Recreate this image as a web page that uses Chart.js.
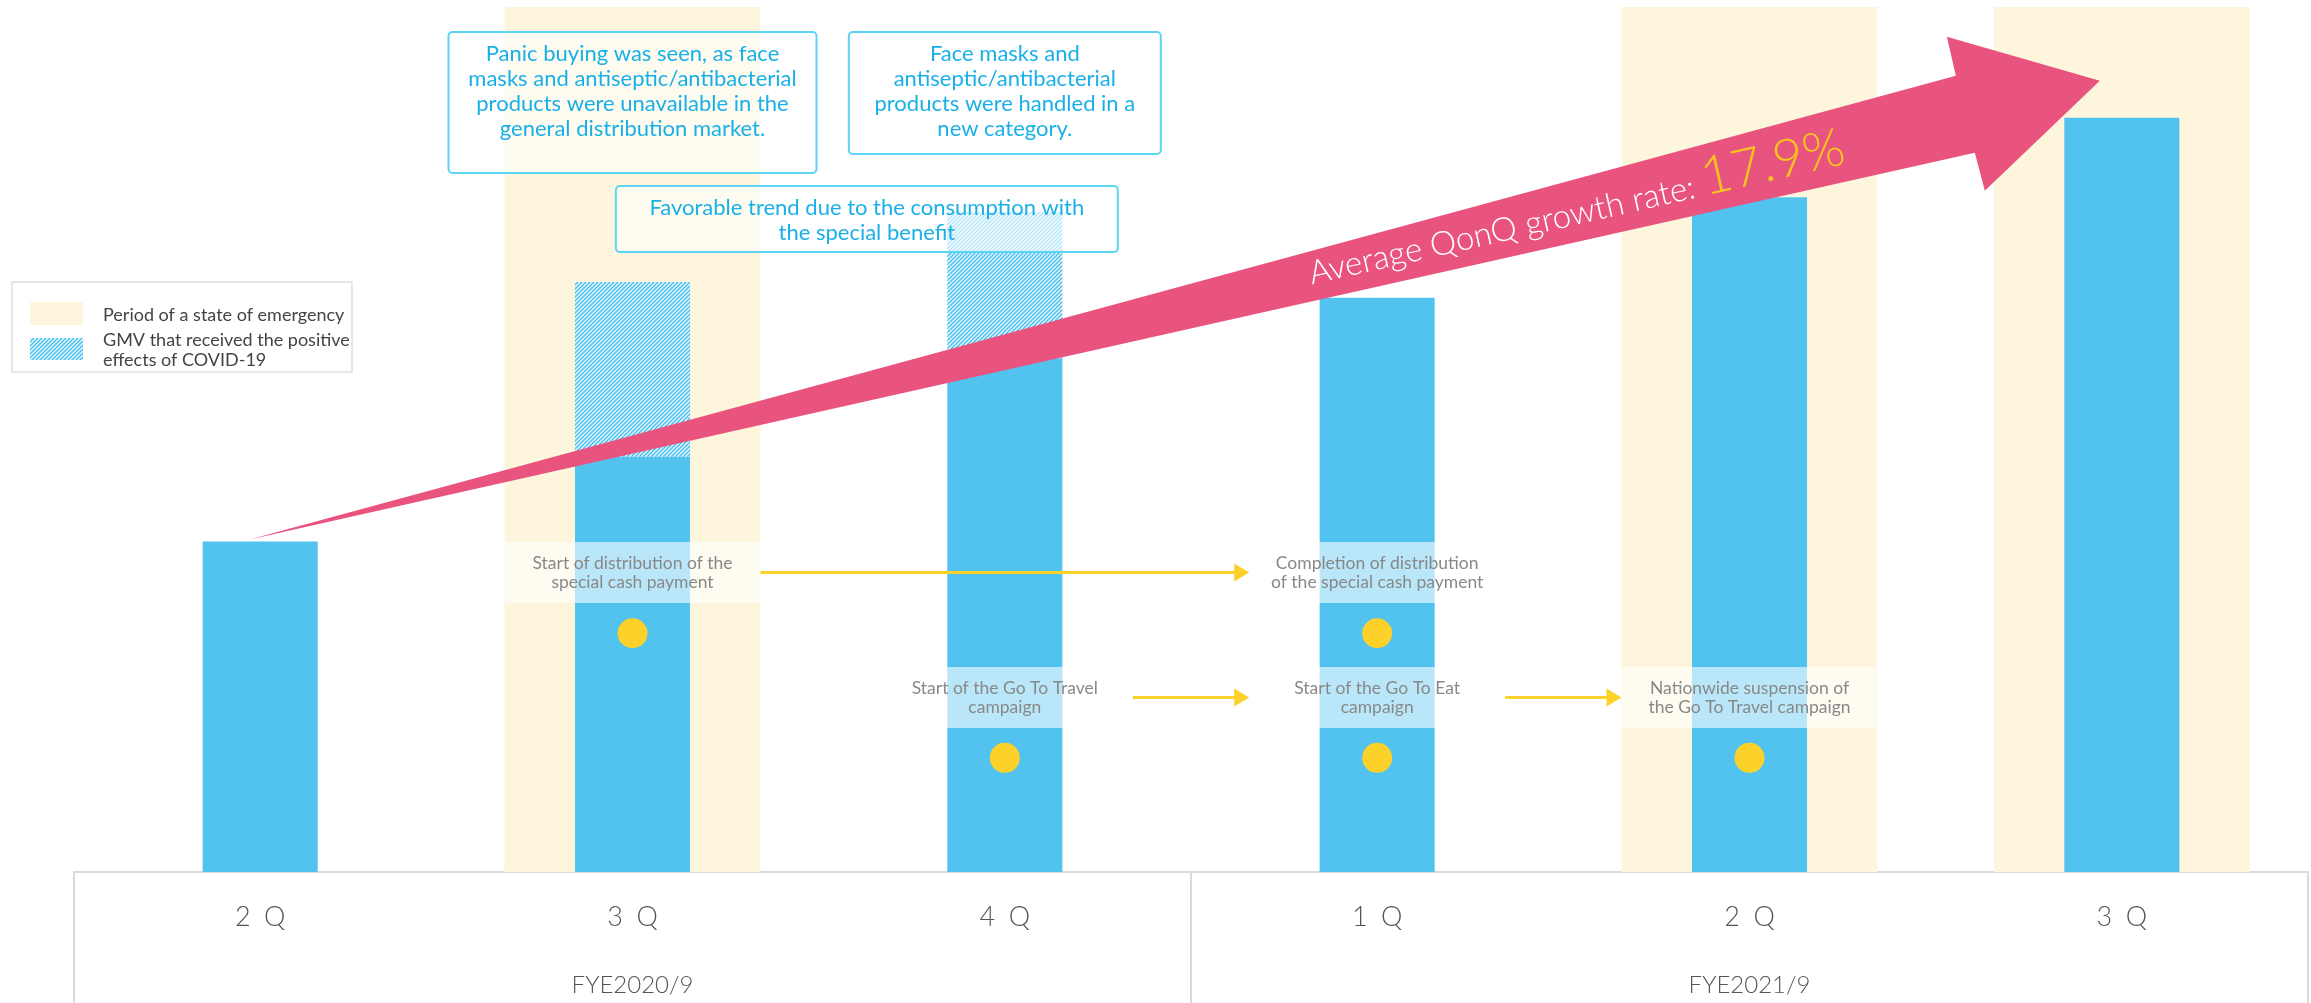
<!DOCTYPE html>
<html>
<head>
<meta charset="utf-8">
<title>GMV QonQ</title>
<script src="https://cdn.jsdelivr.net/npm/chart.js@4.4.1/dist/chart.umd.min.js"></script>
<style>
    html, body { margin: 0; padding: 0; background: #fff; }
    #wrap { width: 2311px; height: 1003px; position: relative; }
</style>
</head>
<body>
<div id="wrap"><canvas id="gmv-chart"></canvas></div>
<script>
// x axis
var quarters = ['2Q', '3Q', '4Q', '1Q', '2Q', '3Q'];
var fiscalYears = ['FYE2020/9', 'FYE2021/9'];
var quartersPerYear = 3;

// GMV index (axis 0-100)
var gmvBase = [38.2, 48.0, 59.4, 66.4, 78.0, 87.2];
var covidBoost = [0, 20.2, 16.9, 0, 0, 0];
var emergencyPeriod = [false, true, false, false, true, true];

// yellow event markers
var eventDotsUpper = [null, 27.6, null, 27.6, null, null];
var eventDotsLower = [null, null, 13.2, 13.2, 13.2, null];

var growthLabel = 'Average QonQ growth rate: ';
var growthRate = '17.9%';

// event captions: quarter index, row (0 upper / 1 lower)
var eventIndex = [1, 3, 2, 3, 4];
var eventRow = [0, 0, 1, 1, 1];
var eventText = [
    ['Start of distribution of the', 'special cash payment'],
    ['Completion of distribution', 'of the special cash payment'],
    ['Start of the Go To Travel', 'campaign'],
    ['Start of the Go To Eat', 'campaign'],
    ['Nationwide suspension of', 'the Go To Travel campaign']
];
var eventLinks = [[1, 3, 0], [2, 3, 1], [3, 4, 1]];

var noteText = [
    ['Panic buying was seen, as face', 'masks and antiseptic/antibacterial', 'products were unavailable in the', 'general distribution market.'],
    ['Face masks and', 'antiseptic/antibacterial', 'products were handled in a', 'new category.'],
    ['Favorable trend due to the consumption with', 'the special benefit']
];

var legendText = [
    ['Period of a state of emergency'],
    ['GMV that received the positive', 'effects of COVID-19']
];

var BLUE = '#52c2ef';
var BAND = '#fdf6dc';
var PINK = '#e9547f';
var YELLOW = '#fbd12a';
var FONT = 'Lato, "Noto Sans", sans-serif';

// diagonal hatch
function makeHatch() {
    var s = 4;
    var c = document.createElement('canvas');
    c.width = s; c.height = s;
    var g = c.getContext('2d');
    g.fillStyle = '#fff';
    g.fillRect(0, 0, s, s);
    g.strokeStyle = BLUE;
    g.lineWidth = 1.6;
    g.beginPath();
    g.moveTo(0, s); g.lineTo(s, 0);
    g.moveTo(-1, 1); g.lineTo(1, -1);
    g.moveTo(s - 1, s + 1); g.lineTo(s + 1, s - 1);
    g.stroke();
    return g.createPattern(c, 'repeat');
}
var hatch = makeHatch();

function roundRect(ctx, x, y, w, h, r) {
    ctx.beginPath();
    ctx.moveTo(x + r, y);
    ctx.arcTo(x + w, y, x + w, y + h, r);
    ctx.arcTo(x + w, y + h, x, y + h, r);
    ctx.arcTo(x, y + h, x, y, r);
    ctx.arcTo(x, y, x + w, y, r);
    ctx.closePath();
}

var overlayPlugin = {
    id: 'overlay',
    afterDatasetsDraw: function (chart) {
        var ctx = chart.ctx;
        var xs = chart.scales.x;
        ctx.save();

        // event captions
        var rowTop = [542, 667];
        var rowH = 61;
        eventText.forEach(function (lines, i) {
            var cx = xs.getPixelForValue(eventIndex[i]);
            var top = rowTop[eventRow[i]];
            ctx.fillStyle = 'rgba(255,255,255,0.6)';
            ctx.fillRect(cx - 128, top, 256, rowH);
            ctx.fillStyle = '#888';
            ctx.font = '17.5px ' + FONT;
            ctx.textAlign = 'center';
            ctx.textBaseline = 'alphabetic';
            lines.forEach(function (t, k) {
                ctx.fillText(t, cx, top + 27 + k * 19);
            });
        });

        // yellow arrows between events
        ctx.strokeStyle = YELLOW;
        ctx.fillStyle = YELLOW;
        ctx.lineWidth = 3;
        eventLinks.forEach(function (l) {
            var x1 = xs.getPixelForValue(l[0]) + 128;
            var x2 = xs.getPixelForValue(l[1]) - 128;
            var yy = rowTop[l[2]] + rowH / 2;
            ctx.beginPath();
            ctx.moveTo(x1, yy);
            ctx.lineTo(x2 - 14, yy);
            ctx.stroke();
            ctx.beginPath();
            ctx.moveTo(x2, yy);
            ctx.lineTo(x2 - 15, yy - 9);
            ctx.lineTo(x2 - 15, yy + 9);
            ctx.closePath();
            ctx.fill();
        });

        // growth arrow
        var bars = chart.getDatasetMeta(1).data;
        var first = bars[0], last = bars[bars.length - 1];
        var T = { x: first.x - first.width / 2 + 47, y: first.y - 2 };
        var P = { x: last.x - 22, y: last.y - 37 };
        ctx.fillStyle = PINK;
        ctx.beginPath();
        ctx.moveTo(T.x, T.y);
        ctx.lineTo(P.x - 144, P.y - 5);
        ctx.lineTo(P.x - 153, P.y - 44);
        ctx.lineTo(P.x, P.y);
        ctx.lineTo(P.x - 115, P.y + 110);
        ctx.lineTo(P.x - 125, P.y + 72);
        ctx.closePath();
        ctx.fill();

        ctx.save();
        ctx.translate(T.x + 1062, T.y - 255);
        ctx.rotate(Math.atan(-0.226));
        ctx.textAlign = 'left';
        ctx.textBaseline = 'alphabetic';
        ctx.font = '300 33px ' + FONT;
        var fit = 33 * 395 / ctx.measureText(growthLabel.trim()).width;
        ctx.font = '300 ' + fit.toFixed(1) + 'px ' + FONT;
        ctx.fillStyle = '#fff';
        ctx.fillText(growthLabel, 0, 0);
        var w = ctx.measureText(growthLabel).width;
        ctx.font = '300 ' + (fit * 1.6).toFixed(1) + 'px ' + FONT;
        ctx.fillStyle = '#f8c51d';
        ctx.fillText(growthRate, w, 0);
        ctx.restore();

        // note boxes
        var noteBox = [
            { cx: xs.getPixelForValue(1), top: 32, w: 368, h: 141, base: 61 },
            { cx: xs.getPixelForValue(2), top: 32, w: 312, h: 122, base: 61 },
            { cx: xs.getPixelForValue(2) - 138, top: 186, w: 502, h: 66, base: 215 }
        ];
        noteText.forEach(function (lines, i) {
            var b = noteBox[i];
            roundRect(ctx, b.cx - b.w / 2, b.top, b.w, b.h, 4);
            ctx.fillStyle = 'rgba(255,255,255,0.6)';
            ctx.fill();
            ctx.strokeStyle = '#5cd4f3';
            ctx.lineWidth = 2;
            ctx.stroke();
            ctx.fillStyle = '#19b0e8';
            ctx.font = '22px ' + FONT;
            ctx.textAlign = 'center';
            lines.forEach(function (t, k) {
                ctx.fillText(t, b.cx, b.base + k * 25);
            });
        });
        ctx.restore();
    },
    afterDraw: function (chart) {
        var ctx = chart.ctx;
        var xs = chart.scales.x;
        var area = chart.chartArea;
        var H = chart.height;
        ctx.save();

        // axis frame
        ctx.strokeStyle = '#dadada';
        ctx.lineWidth = 2;
        var splits = [area.left, area.right];
        for (var g = 1; g < fiscalYears.length; g++) {
            var i = g * quartersPerYear;
            splits.push((xs.getPixelForValue(i - 1) + xs.getPixelForValue(i)) / 2);
        }
        splits.forEach(function (sx) {
            ctx.beginPath();
            ctx.moveTo(sx, area.bottom);
            ctx.lineTo(sx, H);
            ctx.stroke();
        });

        // fiscal year labels
        ctx.fillStyle = '#555';
        ctx.font = '300 24px ' + FONT;
        ctx.textAlign = 'center';
        ctx.textBaseline = 'alphabetic';
        fiscalYears.forEach(function (fy, g) {
            var a = xs.getPixelForValue(g * quartersPerYear);
            var b = xs.getPixelForValue(g * quartersPerYear + quartersPerYear - 1);
            ctx.fillText(fy, (a + b) / 2, 993);
        });

        // legend
        ctx.fillStyle = '#fff';
        ctx.fillRect(12, 282, 340, 90);
        ctx.strokeStyle = '#e0e0e0';
        ctx.lineWidth = 1.5;
        ctx.strokeRect(12, 282, 340, 90);
        ctx.fillStyle = BAND;
        ctx.fillRect(30, 302, 53, 23);
        ctx.fillStyle = hatch;
        ctx.fillRect(30, 338, 53, 22);
        ctx.fillStyle = '#444';
        ctx.font = '18px ' + FONT;
        ctx.textAlign = 'left';
        ctx.fillText(legendText[0][0], 103, 321);
        ctx.fillText(legendText[1][0], 103, 346);
        ctx.fillText(legendText[1][1], 103, 366);
        ctx.restore();
    }
};

new Chart(document.getElementById('gmv-chart'), {
    type: 'bar',
    data: {
        labels: quarters,
        datasets: [{
            label: 'Period of a state of emergency',
            data: emergencyPeriod.map(function (on) { return on ? 100 : null; }),
            backgroundColor: BAND,
            grouped: false,
            stack: 'band',
            order: 3,
            barPercentage: 1,
            categoryPercentage: 0.687
        }, {
            label: 'GMV',
            data: gmvBase,
            backgroundColor: BLUE,
            stack: 'gmv',
            order: 2,
            barPercentage: 1,
            categoryPercentage: 0.309
        }, {
            label: 'GMV that received the positive effects of COVID-19',
            data: covidBoost,
            backgroundColor: hatch,
            stack: 'gmv',
            order: 2,
            barPercentage: 1,
            categoryPercentage: 0.309
        }, {
            type: 'line',
            label: 'events upper',
            data: eventDotsUpper,
            showLine: false,
            pointRadius: 15,
            pointHoverRadius: 15,
            pointBackgroundColor: YELLOW,
            pointBorderWidth: 0,
            stack: 'dots1',
            order: 1
        }, {
            type: 'line',
            label: 'events lower',
            data: eventDotsLower,
            showLine: false,
            pointRadius: 15,
            pointHoverRadius: 15,
            pointBackgroundColor: YELLOW,
            pointBorderWidth: 0,
            stack: 'dots2',
            order: 1
        }]
    },
    options: {
        responsive: true,
        maintainAspectRatio: false,
        animation: false,
        layout: { autoPadding: false, padding: { left: 74, right: 3, top: 7, bottom: 0 } },
        plugins: {
            legend: { display: false },
            tooltip: { enabled: false }
        },
        scales: {
            x: {
                grid: { display: false, drawTicks: false },
                border: { display: true, color: '#dadada', width: 2 },
                ticks: {
                    padding: 29,
                    color: '#555',
                    font: { family: FONT, size: 27, weight: 300 },
                    callback: function (v, i) {
                        return quarters[i].split('').join('\u2002');
                    }
                },
                afterFit: function (scale) { scale.height = 131; }
            },
            y: {
                display: false,
                stacked: true,
                min: 0,
                max: 100
            }
        }
    },
    plugins: [overlayPlugin]
});
</script>
</body>
</html>
